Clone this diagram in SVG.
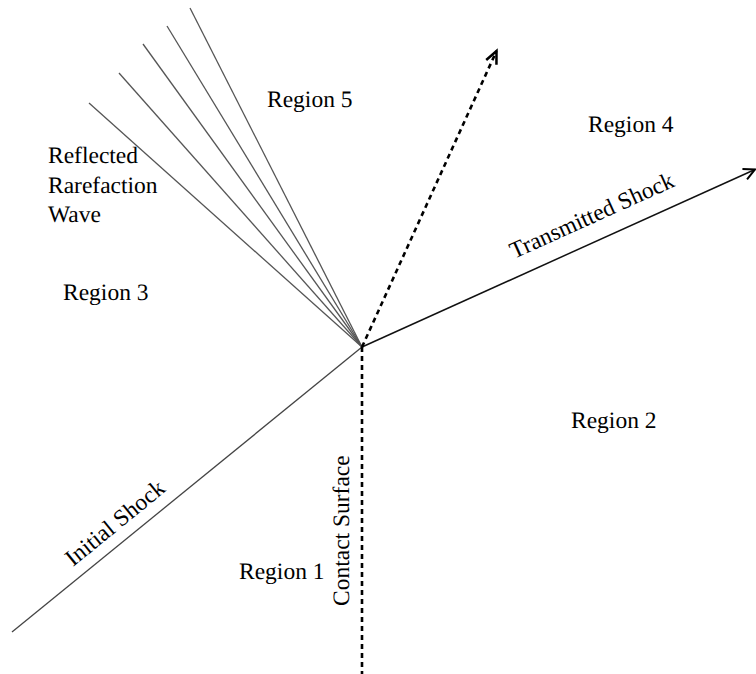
<svg xmlns="http://www.w3.org/2000/svg" width="756" height="674" viewBox="0 0 756 674">
<style>
.lbl{font-family:'Liberation Serif','Times New Roman',serif;font-size:23.5px;fill:#000;text-rendering:geometricPrecision}
.fan{stroke:#555;stroke-width:1.3;fill:none}
.shock{stroke:#444;stroke-width:1.3;fill:none}
.trans{stroke:#111;stroke-width:1.5;fill:none}
.dash{stroke:#000;stroke-width:2.6;stroke-dasharray:5 4;fill:none}
</style>
<defs>
<marker id="openHead" markerUnits="userSpaceOnUse" markerWidth="20" markerHeight="20" refX="0" refY="0" viewBox="-12 -8 14 16" orient="auto" overflow="visible">
<path d="M -9 -4.5 L 0 0 L -9 4.5" fill="none" stroke="#000" stroke-width="1.6"/>
</marker>
<marker id="dashHead" markerUnits="userSpaceOnUse" markerWidth="20" markerHeight="20" refX="0" refY="0" viewBox="-12 -8 14 16" orient="auto" overflow="visible">
<path d="M -10 -4.5 L 0 0 L -10 4.5" fill="none" stroke="#000" stroke-width="2"/>
</marker>
</defs>
<g id="connectors">
<g id="fan">
<line class="fan" x1="362" y1="347" x2="89" y2="103"/>
<line class="fan" x1="362" y1="347" x2="119" y2="73"/>
<line class="fan" x1="362" y1="347" x2="143" y2="44"/>
<line class="fan" x1="362" y1="347" x2="167" y2="26"/>
<line class="fan" x1="362" y1="347" x2="190" y2="8"/>
</g>
<line id="initial-shock" class="shock" x1="12" y1="632" x2="362" y2="347"/>
<line id="transmitted-shock" class="trans" x1="362" y1="347" x2="755" y2="169.5" marker-end="url(#openHead)"/>
<line id="contact-surface" class="dash" x1="362" y1="347" x2="362" y2="674"/>
<line id="contact-path" class="dash" x1="362" y1="347" x2="496.5" y2="51" marker-end="url(#dashHead)"/>
</g>
<g id="labels">
<g id="rarefaction-label">
<text class="lbl" x="48" y="163">Reflected</text>
<text class="lbl" x="48" y="193">Rarefaction</text>
<text class="lbl" x="48" y="222">Wave</text>
</g>
<g id="region5"><text class="lbl" x="267" y="107">Region 5</text></g>
<g id="region4"><text class="lbl" x="588" y="132">Region 4</text></g>
<g id="region3"><text class="lbl" x="63" y="300">Region 3</text></g>
<g id="region2"><text class="lbl" x="571" y="428">Region 2</text></g>
<g id="region1"><text class="lbl" x="239" y="579">Region 1</text></g>
<g id="initial-shock-label"><text class="lbl" transform="translate(73,567) rotate(-39.2)">Initial Shock</text></g>
<g id="transmitted-shock-label"><text class="lbl" transform="translate(514,259) rotate(-24.3)">Transmitted Shock</text></g>
<g id="contact-surface-label"><text class="lbl" transform="translate(349,606) rotate(-90)">Contact Surface</text></g>
</g>
</svg>
